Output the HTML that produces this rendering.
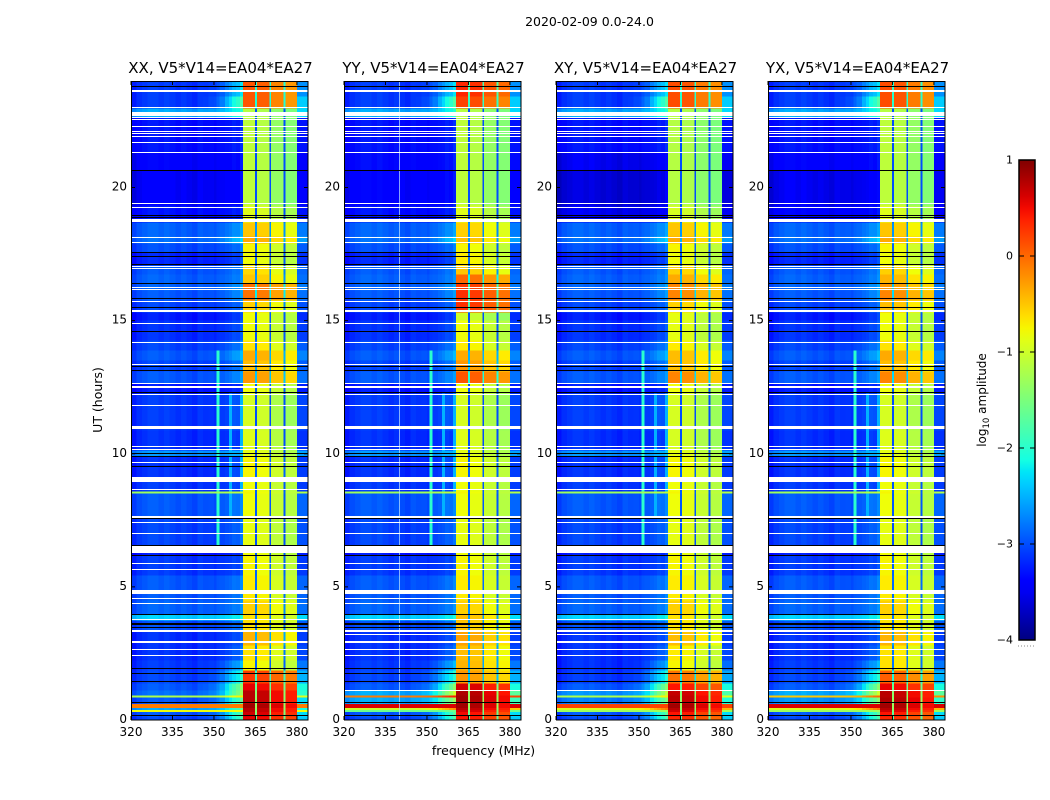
<!DOCTYPE html>
<html>
<head>
<meta charset="utf-8">
<title>2020-02-09 dynamic spectra</title>
<style>
html,body{margin:0;padding:0;background:#fff;width:1050px;height:800px;overflow:hidden}
svg{display:block}
text{font-family:"DejaVu Sans","Liberation Sans",sans-serif;fill:#000}
</style>
</head>
<body>
<svg id="chart" width="1050" height="800" viewBox="0 0 1050 800" xmlns="http://www.w3.org/2000/svg">
<defs><linearGradient id="jet-gradient" x1="0" y1="1" x2="0" y2="0"></linearGradient></defs>
<text x="589.5" y="26" text-anchor="middle" font-size="12.5">2020-02-09 0.0-24.0</text>
<text x="483.5" y="755" text-anchor="middle" font-size="12.5">frequency (MHz)</text>
<text transform="translate(102,400) rotate(-90)" text-anchor="middle" font-size="12.5">UT (hours)</text>
<text transform="translate(986,400) rotate(-90)" text-anchor="middle" font-size="12">log<tspan font-size="8.5" dy="3">10</tspan><tspan dy="-3"> amplitude</tspan></text>
</svg>
<script>
// ---- categories ----
const panelNames = ["XX", "YY", "XY", "YX"];
const baselineLabel = "V5*V14=EA04*EA27";
const xTickLabels = [320, 335, 350, 365, 380];
const yTickLabels = [0, 5, 10, 15, 20];
const colorbarTickLabels = [1, 0, -1, -2, -3, -4];

// ---- UT band edges (hours) ----
const utEdges = [0,.15,.32,.40,.47,.62,.86,.94,1.13,1.39,1.88,2.25,2.82,3.38,3.76,3.98,4.5,5.45,6.2,6.57,7.66,8.52,8.6,9.01,9.91,10.14,10.89,12.28,12.65,13.1,13.52,13.89,14.27,15.02,15.32,15.77,16.15,16.41,16.75,17.09,17.58,17.91,18.17,18.70,18.85,19.34,20.65,21.33,22.64,22.98,23.43,24];

// ---- frequency channel edges (MHz) ----
const freqEdges = [320,322,324,326,328,330,332,334,336,338,340,342,344,346,348,350,351,352,354,355.5,356.5,358,359.5,360.5,364.9,365.6,370,370.7,375.1,375.8,380,384];
const subbandStart = [360.5,365.6,370.7,375.8];
const subbandEnd = [364.9,370,375.1,380];
const subbandOffset = [0.05,0.0,-0.2,-0.3];
const gapDrop = 2.1;
const gapFloor = -3.0;

// ---- per-channel background structure (log10 amplitude) ----
const backgroundProfile = [-.1,0,.05,.1,.1,.05,.1,.05,0,.05,0,-.05,.05,0,0,-.05,0,0,0,0,.05,0,.1];
const riseShape = [0,0,0,0,0,0,0,0,0,0,0,0,0,.05,.1,.15,.2,.3,.5,.65,.75,.9,1];
const edgeRise = [1.2,1.2,0,.8,0,1.2,.5,1.5,1.5,1.0,.6,.3,.2,.2,.2,.2,.2,.1,.1,.2,.2,.2,.1,.2,.2,.1,.2,.1,.3,.3,.45,.3,.2,.2,.2,.3,.3,.2,.2,.2,.2,.5,.3,.1,.1,.1,.1,.1,.5,1.3,.8];

// ---- background level per UT band ----
const backgroundXX = [-3.1,-3.0,-.8,-2.6,-.1,-3.0,-1.2,-2.9,-3.0,-3.1,-3.15,-3.2,-3.2,-3.05,-2.4,-2.95,-3.0,-3.15,-3.3,-3.1,-3.0,-1.3,-3.15,-3.2,-2.7,-3.2,-3.15,-3.3,-3.0,-3.1,-3.0,-3.1,-3.2,-3.3,-3.1,-3.0,-2.95,-2.95,-3.0,-3.25,-3.05,-2.9,-2.95,-3.3,-3.35,-3.5,-3.45,-3.35,-2.6,-3.15,-3.15];
const backgroundYY = [-3.1,-3.0,-1.6,-1.0,.6,-2.6,-.1,-2.6,-3.0,-3.1,-3.15,-3.2,-3.2,-3.05,-2.4,-2.95,-3.0,-3.15,-3.3,-3.1,-3.0,-1.3,-3.15,-3.2,-2.7,-3.2,-3.15,-3.3,-3.0,-3.1,-3.0,-3.1,-3.2,-3.3,-3.1,-3.0,-2.95,-2.95,-3.0,-3.25,-3.05,-2.9,-2.95,-3.3,-3.35,-3.45,-3.4,-3.35,-2.6,-3.15,-3.15];
const backgroundXY = [-3.1,-3.0,-1.3,-.9,.2,-2.8,-1.2,-2.7,-3.0,-3.15,-3.2,-3.2,-3.2,-3.05,-2.4,-2.95,-3.0,-3.15,-3.3,-3.1,-3.0,-1.3,-3.15,-3.2,-2.7,-3.2,-3.15,-3.3,-3.0,-3.1,-3.0,-3.1,-3.2,-3.3,-3.1,-3.0,-2.95,-2.95,-3.0,-3.25,-3.05,-2.9,-2.95,-3.4,-3.55,-3.65,-3.55,-3.35,-2.6,-3.15,-3.15];
const backgroundYX = [-3.1,-3.0,-1.3,-.9,.6,-2.7,-.5,-2.6,-3.0,-3.1,-3.15,-3.2,-3.2,-3.05,-2.4,-2.95,-3.0,-3.15,-3.3,-3.1,-3.0,-1.3,-3.15,-3.2,-2.7,-3.2,-3.15,-3.3,-3.0,-3.1,-3.0,-3.1,-3.2,-3.3,-3.1,-3.0,-2.95,-2.95,-3.0,-3.25,-3.05,-2.9,-2.95,-3.35,-3.45,-3.55,-3.45,-3.35,-2.6,-3.15,-3.15];

// ---- 360-380 MHz signal level per UT band ----
const signalXX = [.5,.6,.7,.7,.8,.7,.7,.7,.5,.2,-.8,-.7,-.45,-.7,-.7,-.6,-.75,-.8,-.85,-.9,-.85,-.8,-.85,-.8,-.9,-.95,-1,-.85,-.3,-.5,-.4,-.7,-.85,-.85,-.6,-.1,-.1,-.55,-.65,-.85,-.8,-.4,-.55,-.9,-.95,-1.15,-1.15,-1.15,-1.2,.05,.05];
const signalYY = [.4,.45,.6,.7,.8,.8,.8,.75,.6,-.3,-.45,-.5,-.35,-.55,-.5,-.6,-.75,-.8,-.85,-.9,-.85,-.8,-.85,-.8,-.9,-.95,-1,-.85,.05,-.3,-.4,-.75,-.85,-1.05,.25,.25,.2,-.05,-.55,-.75,-.8,-.5,-.6,-.9,-.95,-1.15,-1.15,-1.15,-1.2,.15,.3];
const signalXY = [.3,.4,.6,.7,.8,.7,.7,.65,.4,-.1,-.8,-.75,-.5,-.7,-.7,-.6,-.75,-.8,-.85,-.9,-.85,-.8,-.85,-.8,-.9,-1,-1,-.85,-.2,-.5,-.5,-.75,-.9,-.9,-.6,-.2,-.2,-.4,-.6,-.85,-.8,-.4,-.55,-.9,-1,-1.2,-1.2,-1.2,-1.2,.1,.1];
const signalYX = [.3,.4,.6,.7,.8,.75,.7,.7,.5,0,-.7,-.7,-.45,-.7,-.7,-.6,-.75,-.8,-.85,-.9,-.85,-.8,-.85,-.8,-.9,-.95,-1,-.85,-.2,-.5,-.4,-.7,-.85,-.85,-.5,-.2,-.3,-.45,-.6,-.85,-.8,-.4,-.55,-.9,-.95,-1.15,-1.15,-1.15,-1.2,.1,.1];

// ---- narrow vertical interference lines ----
const rfiFreq = [351.5,356,360];
const rfiStartUT = [6.57,7.66,8.6];
const rfiEndUT = [13.89,12.28,12.28];
const rfiLevel = [-2.0,-2.5,-2.5];
const flaggedFreqYY = [340];

// ---- flagged (white) and empty (black) rows ----
const whiteLineUT = [23.62,23.01,22.76,22.63,22.56,22.29,22.11,22.04,21.93,21.69,21.32,19.39,19.25,18.76,18.13,17.92,17.04,16.95,16.25,16.17,15.73,15.37,14.90,14.17,13.34,12.62,12.54,12.47,12.23,11.82,10.98,10.29,10.17,9.66,9.03,8.67,7.62,7.42,7.01,6.42,5.88,5.67,4.81,4.57,4.38,3.78,3.34,2.94,2.65,2.41];
const whiteLineHours = [.06,.05,.15,.05,.05,.05,.05,.05,.05,.05,.05,.05,.05,.13,.05,.05,.05,.05,.05,.05,.05,.08,.05,.05,.05,.05,.05,.05,.05,.05,.12,.05,.05,.05,.19,.05,.09,.05,.05,.25,.05,.05,.14,.05,.05,.05,.07,.07,.05,.05];
const extraWhiteUT = [1.1,3.22];
const extraWhitePanels = ["YY","XY","YX"];
const blackLineUT = [23.81,20.64,18.95,18.89,17.55,17.40,17.11,16.40,15.82,15.48,14.60,13.29,13.12,12.29,10.01,9.91,9.51,7.55,6.57,6.18,3.97,3.63,3.58,3.48,1.93,1.75,1.43,.66,.18];

const panelBackground = [backgroundXX, backgroundYY, backgroundXY, backgroundYX];
const panelSignal = [signalXX, signalYY, signalXY, signalYX];

// ---- layout and axis functions ----
const NS = "http://www.w3.org/2000/svg";
const svg = document.getElementById("chart");
const panelLeft = [131, 344, 556, 768];
const panelWidth = 177, plotTop = 81, plotBottom = 720;
const freqMin = 320, freqMax = 384, utMin = 0, utMax = 24;
const cbLeft = 1019, cbWidth = 16, cbTop = 160, cbBottom = 640, cbMin = -4, cbMax = 1;
function xScale(p, f) { return panelLeft[p] + (f - freqMin) / (freqMax - freqMin) * panelWidth; }
function yScale(t) { return plotBottom - (t - utMin) / (utMax - utMin) * (plotBottom - plotTop); }
function cbScale(v) { return cbBottom - (v - cbMin) / (cbMax - cbMin) * (cbBottom - cbTop); }
function lerp(xs, ys, x) {
  for (let i = 1; i < xs.length; i++) {
    if (x <= xs[i]) return ys[i-1] + (ys[i] - ys[i-1]) * (x - xs[i-1]) / (xs[i] - xs[i-1]);
  }
  return ys[ys.length-1];
}
function jet(v) {
  const x = Math.max(0, Math.min(1, (v - cbMin) / (cbMax - cbMin)));
  const r = lerp([0,.35,.66,.89,1],[0,0,1,1,.5],x);
  const g = lerp([0,.125,.375,.64,.91,1],[0,0,1,1,0,0],x);
  const b = lerp([0,.11,.34,.65,1],[.5,1,1,0,0],x);
  return "rgb(" + Math.round(r*255) + "," + Math.round(g*255) + "," + Math.round(b*255) + ")";
}
function make(tag, attrs, parent, text) {
  const el = document.createElementNS(NS, tag);
  for (const k in attrs) el.setAttribute(k, attrs[k]);
  if (text !== undefined) el.textContent = text;
  (parent || svg).appendChild(el);
  return el;
}
function cellValue(p, band, ch) {
  const lo = freqEdges[ch], hi = freqEdges[ch+1], mid = (lo + hi) / 2;
  const bg = panelBackground[p][band], sig = panelSignal[p][band], rise = edgeRise[band];
  if (mid >= subbandEnd[3]) return bg + 0.6 * rise;
  if (mid >= subbandStart[0]) {
    for (let s = 0; s < subbandStart.length; s++) {
      if (mid >= subbandStart[s] && mid < subbandEnd[s]) return sig + subbandOffset[s];
    }
    return Math.max(gapFloor, sig - gapDrop);
  }
  let v = Math.max(bg, bg + rise * riseShape[ch]) + (bg < -1.9 ? backgroundProfile[ch] : 0);
  const tMid = (utEdges[band] + utEdges[band+1]) / 2;
  for (let r = 0; r < rfiFreq.length; r++) {
    if (rfiFreq[r] >= lo && rfiFreq[r] < hi && tMid >= rfiStartUT[r] && tMid <= rfiEndUT[r]) v = Math.max(v, rfiLevel[r]);
  }
  return v;
}
function drawRow(p, g, t, hours, color, name) {
  const h = Math.max(1, Math.round(hours * (plotBottom - plotTop) / (utMax - utMin)));
  const row = make("rect", {x: panelLeft[p], y: Math.round(yScale(t) - h / 2), width: panelWidth, height: h, fill: color, "shape-rendering": "crispEdges"}, g);
  
  
}

// ---- draw panels ----
panelNames.forEach(function (name, p) {
  const g = make("g", {});
  
  

  const cells = make("g", {"shape-rendering": "crispEdges"}, g);
  
  
  for (let b = 0; b < utEdges.length - 1; b++) {
    for (let c = 0; c < freqEdges.length - 1; c++) {
      const x0 = xScale(p, freqEdges[c]), x1 = xScale(p, freqEdges[c+1]);
      const y0 = yScale(utEdges[b+1]), y1 = yScale(utEdges[b]);
      const cell = make("rect", {x: x0, y: y0, width: x1 - x0, height: y1 - y0 + .5, fill: jet(cellValue(p, b, c))}, cells);
      
      
    }
  }
  if (name === "YY") {
    flaggedFreqYY.forEach(function (f) {
      const line = make("rect", {x: Math.round(xScale(p, f)), y: plotTop, width: 1, height: plotBottom - plotTop, fill: "rgba(190,230,255,.7)", "shape-rendering": "crispEdges"}, g);
      
      
    });
  }
  blackLineUT.forEach(function (t) { drawRow(p, g, t, .04, "#000", "empty-row"); });
  whiteLineUT.forEach(function (t, i) { drawRow(p, g, t, whiteLineHours[i], "#fff", "flagged-row"); });
  if (extraWhitePanels.indexOf(name) >= 0) {
    extraWhiteUT.forEach(function (t) { drawRow(p, g, t, .05, "#fff", "flagged-row"); });
  }

  const frame = make("rect", {x: panelLeft[p] + .5, y: plotTop + .5, width: panelWidth - .5, height: plotBottom - plotTop - .5, fill: "none", stroke: "#000", "stroke-width": 1}, g);
  
  

  xTickLabels.forEach(function (v) {
    const x = xScale(p, v);
    const t1 = make("line", {x1: x, x2: x, y1: plotBottom, y2: plotBottom - 4, stroke: "#000"}, g);
    
    
    const t2 = make("line", {x1: x, x2: x, y1: plotTop, y2: plotTop + 4, stroke: "#000"}, g);
    
    
    const lab = make("text", {x: x, y: 736, "text-anchor": "middle", "font-size": 12}, g, String(v));
    
    
  });
  yTickLabels.forEach(function (v) {
    const y = yScale(v);
    const t1 = make("line", {x1: panelLeft[p], x2: panelLeft[p] + 4, y1: y, y2: y, stroke: "#000"}, g);
    
    
    const t2 = make("line", {x1: panelLeft[p] + panelWidth, x2: panelLeft[p] + panelWidth - 4, y1: y, y2: y, stroke: "#000"}, g);
    
    
    const lab = make("text", {x: panelLeft[p] - 4, y: y + 3, "text-anchor": "end", "font-size": 12}, g, String(v));
    
    
  });
  const title = make("text", {x: panelLeft[p] + panelWidth / 2 + 1, y: 73, "text-anchor": "middle", "font-size": 15}, g, name + ", " + baselineLabel);
  
  
});

// ---- colorbar ----
const gradient = document.getElementById("jet-gradient");
for (let i = 0; i <= 40; i++) {
  make("stop", {offset: (i / 40), "stop-color": jet(cbMin + (cbMax - cbMin) * i / 40)}, gradient);
}
const cb = make("g", {});


const cbRect = make("rect", {x: cbLeft, y: cbTop, width: cbWidth, height: cbBottom - cbTop, fill: "url(#jet-gradient)", stroke: "#000", "stroke-width": 1.5}, cb);


colorbarTickLabels.forEach(function (v) {
  const y = cbScale(v);
  const t1 = make("line", {x1: cbLeft, x2: cbLeft + 5, y1: y, y2: y, stroke: "#000"}, cb);
  
  
  const t2 = make("line", {x1: cbLeft + cbWidth, x2: cbLeft + cbWidth - 5, y1: y, y2: y, stroke: "#000"}, cb);
  
  
  const lab = make("text", {x: cbLeft - 6, y: y + 3.5, "text-anchor": "end", "font-size": 11}, cb, v < 0 ? "\u2212" + Math.abs(v) : String(v));
  
  
});
const cbMinor = make("line", {x1: 1018, x2: 1035, y1: 646, y2: 646, stroke: "#888", "stroke-width": 1, "stroke-dasharray": "1 2"}, cb);


</script>
</body>
</html>
